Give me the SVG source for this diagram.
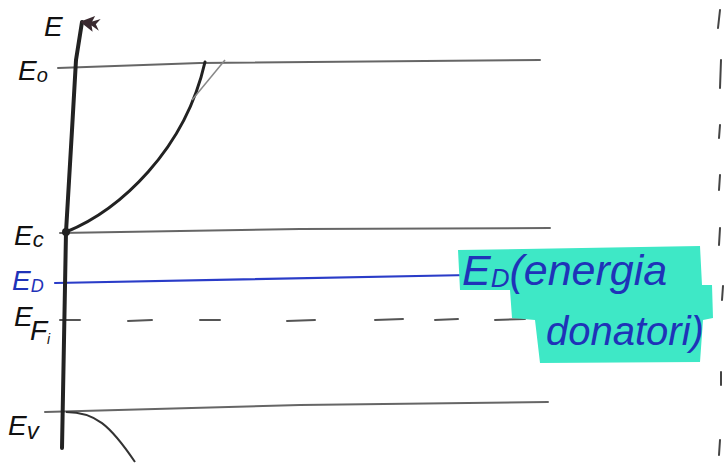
<svg xmlns="http://www.w3.org/2000/svg" width="726" height="465" viewBox="0 0 726 465">
<style>
.ink{fill:none;stroke:#222;stroke-linecap:round;stroke-linejoin:round}
.lvl{fill:none;stroke:#666;stroke-width:2;stroke-linecap:round}
.dash{fill:none;stroke:#555;stroke-width:2;stroke-linecap:round}
.lbl{font-family:"Liberation Sans",sans-serif;font-style:italic;fill:#111;font-size:28px}
.blue{fill:#1f33b8}
.hl{fill:#3ee8c6}
.tick{fill:none;stroke:#444;stroke-width:2;stroke-linecap:round}
</style>
<defs>
<marker id="ah" markerWidth="16" markerHeight="20" refX="8" refY="2" orient="auto" markerUnits="userSpaceOnUse">
<path d="M0,14 L8,0 L16,14 L10,12 L14,20 L8,16 L2,20 L6,12 Z" fill="#3a2a30"/>
</marker>
</defs>
<rect width="726" height="465" fill="#fff"/>
<g id="levels">
<path class="lvl" d="M58,68 L200,63 L540,60"/>
<path class="lvl" d="M60,233 L300,229 L550,228"/>
<path d="M55,283 L470,275" fill="none" stroke="#2a3cc8" stroke-width="2.2" stroke-linecap="round"/>
<g id="fermi-dashes">
<path class="dash" d="M60,320 L80,320 M128,321 L152,320 M200,320 L220,320 M287,321 L315,320 M375,320 L403,319 M435,320 L458,319 M495,320 L525,319"/>
</g>
<path class="lvl" d="M45,412 L300,405 L548,402"/>
</g>
<g id="axis">
<path class="ink" stroke-width="4" d="M62,448 L64,340 L66,232 L72,130 L76,60 L82,22" marker-end="url(#ah)"/>
<circle cx="66" cy="232" r="4" fill="#222"/>
</g>
<g id="curves">
<path class="ink" stroke-width="3" d="M66,232 C120,210 185,150 205,62"/>
<path fill="none" stroke="#888" stroke-width="1.5" d="M192,100 L225,60"/>
<path fill="none" stroke="#333" stroke-width="2" d="M66,412 C95,412 110,425 135,462"/>
</g>
<g id="labels">
<text class="lbl" x="44" y="36" font-size="26">E</text>
<text class="lbl" x="18" y="80">E<tspan font-size="20" dy="2">o</tspan></text>
<text class="lbl" x="14" y="245">E<tspan font-size="22" dy="2">c</tspan></text>
<text class="lbl blue" x="12" y="290" font-size="26">E<tspan font-size="18" dy="2">D</tspan></text>
<text class="lbl" x="14" y="326" font-size="26">E</text>
<text class="lbl" x="30" y="340" font-size="18">F<tspan font-size="14" dy="4">i</tspan></text>
<text class="lbl" x="8" y="435" font-size="36">E<tspan font-size="24" dy="4">v</tspan></text>
</g>
<g id="donor-note">
<path class="hl" d="M458,250 L700,246 L702,285 L712,285 L713,318 L703,320 L700,362 L540,363 L535,320 L512,318 L510,290 L460,290 Z"/>
<text class="blue" x="462" y="285" font-family="Liberation Sans,sans-serif" font-style="italic" font-size="43">E<tspan font-size="26" dy="2">D</tspan><tspan dy="-2">(energia</tspan></text>
<text class="blue" x="546" y="345" font-family="Liberation Sans,sans-serif" font-style="italic" font-size="40">donatori)</text>
</g>
<g id="margin">
<path class="tick" d="M720,10 L718,28"/>
<path class="tick" d="M721,60 L720,88"/>
<path class="tick" d="M720,125 L719,138"/>
<path class="tick" d="M720,175 L719,190"/>
<path class="tick" d="M720,228 L719,245"/>
<path class="tick" d="M723,286 L722,300"/>
<path class="tick" d="M721,372 L721,385"/>
<path class="tick" d="M720,440 L719,455"/>
</g>
</svg>
